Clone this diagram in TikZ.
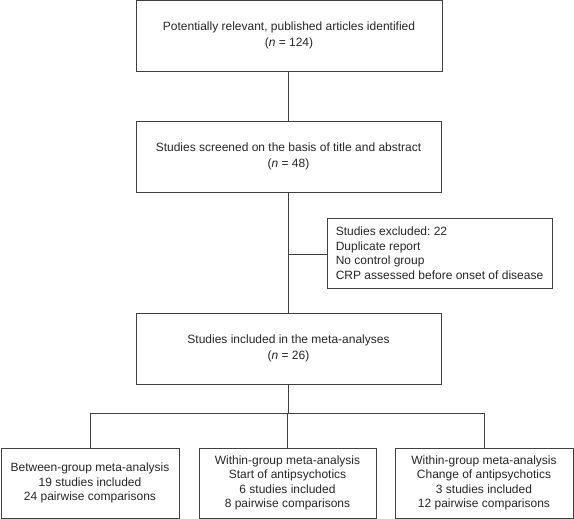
\documentclass[tikz,border=0pt]{standalone}
\usepackage{fontspec}
\setmainfont{Liberation Sans}
\usetikzlibrary{positioning}
\frenchspacing
\newcommand{\boxwidth}{305}

\begin{document}
\begin{tikzpicture}[x=1pt,y=-1pt,
	flowbox/.style={draw=black!75, line width=.8pt, align=center, inner sep=0pt,
		font=\fontsize{12}{16}\selectfont, text=black!85},
	resultbox/.style={flowbox, minimum width=178, minimum height=70,
		font=\fontsize{12}{14.5}\selectfont},
	link/.style={draw=black!75, line width=.8pt}]

	\useasboundingbox (0,0) rectangle (574,519);

	% main column
	\node[flowbox, minimum width=306, minimum height=70.5] (found) at (289,35.75)
		{Potentially relevant, published articles identified\\(\textit{n} = 124)};
	\node[flowbox, minimum width=\boxwidth, minimum height=71] (screened) at (288.5,156.5)
		{Studies screened on the basis of title and abstract\\(\textit{n} = 48)};
	\node[flowbox, minimum width=\boxwidth, minimum height=71] (included) at (288.5,348.5)
		{Studies included in the meta-analyses\\(\textit{n} = 26)};

	% excluded studies
	\node[flowbox, minimum width=225, minimum height=70, align=left,
		font=\fontsize{12}{14.5}\selectfont] (excluded) at (439.5,253)
		{Studies excluded: 22\\Duplicate report\\No control group\\CRP assessed before onset of disease};

	% the three meta-analyses
	\node[resultbox] (between) at (90,483)
		{Between-group meta-analysis\\19 studies included\\24 pairwise comparisons};
	\node[resultbox, minimum width=177] (start) at (287.5,483)
		{Within-group meta-analysis\\Start of antipsychotics\\6 studies included\\8 pairwise comparisons};
	\node[resultbox] (change) at (484,483)
		{Within-group meta-analysis\\Change of antipsychotics\\3 studies included\\12 pairwise comparisons};

	\coordinate (branch) at (288,254);
	\coordinate (split) at (288,413);

	\draw[link] (found.south -| branch) -- (screened.north -| branch);
	\draw[link] (screened.south -| branch) -- (included.north -| branch);
	\draw[link] (branch) -- (branch -| excluded.west);
	\draw[link] (included.south -| split) -- (split);
	\foreach \target in {between,start,change}
	{
		\draw[link] (split) -| (\target.north);
	}

\end{tikzpicture}
\end{document}
